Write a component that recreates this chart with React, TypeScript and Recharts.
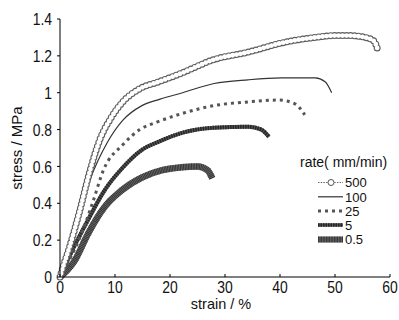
import React from 'react';
import { LineChart, Line, XAxis, YAxis } from 'recharts';

const strainTicks = [0, 10, 20, 30, 40, 50, 60];
const stressTicks = [0, 0.2, 0.4, 0.6, 0.8, 1, 1.2, 1.4];
const legendTitle = 'rate( mm/min)';
const rates = ['500', '100', '25', '5', '0.5'];

const strain500 = [0, 0.5, 1.7, 3.5, 5.3, 7.3, 9.2, 11.4, 14.4, 18, 22, 28, 34.2, 40.3, 46.4, 50, 52.5, 55.5, 57.1, 57.7];
const stress500 = [0, 0.05, 0.16, 0.35, 0.56, 0.75, 0.86, 0.95, 1.02, 1.06, 1.105, 1.18, 1.22, 1.27, 1.3, 1.31, 1.31, 1.3, 1.28, 1.24];

const strain100 = [0, 1.5, 3.9, 5.5, 8.6, 11.4, 14.9, 18.2, 22.3, 28, 34.2, 40.3, 46.4, 48.2, 49.4];
const stress100 = [0, 0.15, 0.38, 0.53, 0.73, 0.85, 0.93, 0.965, 1.0, 1.05, 1.07, 1.08, 1.08, 1.06, 1.0];

const strain25 = [0, 4.1, 5.9, 7.9, 11.5, 14.5, 17.6, 22.5, 28, 34.2, 39.7, 42.7, 44.5];
const stress25 = [0, 0.25, 0.4, 0.58, 0.72, 0.8, 0.84, 0.89, 0.93, 0.95, 0.96, 0.94, 0.88];

const strain5 = [0, 2, 5.1, 8.1, 11.3, 14.9, 18, 22.5, 28, 34.2, 36.6, 38];
const stress5 = [0, 0.13, 0.31, 0.47, 0.59, 0.69, 0.735, 0.785, 0.81, 0.815, 0.8, 0.76];

const strain05 = [0, 2.7, 5.1, 8.1, 11.2, 14.9, 18.6, 22, 25, 26.8, 27.7];
const stress05 = [0, 0.09, 0.235, 0.38, 0.47, 0.54, 0.58, 0.595, 0.6, 0.58, 0.535];

const zip = (xs: number[], ys: number[]) => xs.map((x, i) => ({ x, y: ys[i] }));

const d500 = zip(strain500, stress500);
const d100 = zip(strain100, stress100);
const d25 = zip(strain25, stress25);
const d5 = zip(strain5, stress5);
const d05 = zip(strain05, stress05);

const FONT = '"Liberation Sans", Arial, sans-serif';

const YTick = (props: any) => {
  const { x, y, payload } = props;
  return (
    <g transform={`translate(${x},${y})`}>
      <text transform="scale(0.82,1)" textAnchor="end" dy="0.36em" fontSize={17} fontFamily={FONT} fill="#111">
        {String(payload.value)}
      </text>
    </g>
  );
};

const XTick = (props: any) => {
  const { x, y, payload } = props;
  return (
    <g transform={`translate(${x},${y})`}>
      <text transform="scale(0.82,1)" textAnchor="middle" dy="0.72em" fontSize={17} fontFamily={FONT} fill="#111">
        {String(payload.value)}
      </text>
    </g>
  );
};

export default function App() {
  const rowY = [182.5, 196.8, 211, 225, 239.5];
  const sx1 = 318;
  const sx2 = 343;
  return (
    <div style={{ position: 'absolute', left: 0, top: 0, width: 399, height: 320, background: '#fff' }}>
      <LineChart width={399} height={320} margin={{ top: 19, right: 9, left: 0, bottom: 0 }}>
        <XAxis
          dataKey="x"
          type="number"
          domain={[0, 60]}
          ticks={strainTicks}
          height={43}
          tickSize={-3}
          tickMargin={7}
          axisLine={{ stroke: '#000', strokeWidth: 1 }}
          tickLine={{ stroke: '#000' }}
          tick={<XTick />}
        />
        <YAxis
          dataKey="y"
          type="number"
          domain={[0, 1.4]}
          ticks={stressTicks}
          width={60}
          tickSize={3}
          tickMargin={5}
          axisLine={{ stroke: '#000', strokeWidth: 1 }}
          tickLine={{ stroke: '#000' }}
          tick={<YTick />}
        />
        <Line data={d05} dataKey="y" type="monotone" stroke="#6a6a6a" strokeWidth={6.5} dot={false} isAnimationActive={false} />
        <Line data={d05} dataKey="y" type="monotone" stroke="#2e2e2e" strokeWidth={6.5} strokeDasharray="0.8 0.8" dot={false} isAnimationActive={false} />
        <Line data={d5} dataKey="y" type="monotone" stroke="#5a5a5a" strokeWidth={4} dot={false} isAnimationActive={false} />
        <Line data={d5} dataKey="y" type="monotone" stroke="#262626" strokeWidth={4} strokeDasharray="1.5 1" dot={false} isAnimationActive={false} />
        <Line data={d25} dataKey="y" type="monotone" stroke="#555" strokeWidth={3} strokeDasharray="3 4" dot={false} isAnimationActive={false} />
        <Line data={d100} dataKey="y" type="monotone" stroke="#333" strokeWidth={1.2} dot={false} isAnimationActive={false} />
        <Line data={d500} dataKey="y" type="monotone" stroke="#5e5e5e" strokeWidth={7} strokeDasharray="0 4" strokeLinecap="round" dot={false} isAnimationActive={false} />
        <Line data={d500} dataKey="y" type="monotone" stroke="#fff" strokeWidth={4.8} strokeDasharray="0 4" strokeLinecap="round" dot={false} isAnimationActive={false} />
        <text x={16} y={148} transform="rotate(-90 16 148)" textAnchor="middle" dominantBaseline="central" fontSize={15} fontFamily={FONT} fill="#111">stress / MPa</text>
        <text x={221} y={309} textAnchor="middle" fontSize={14.5} fontFamily={FONT} fill="#111">strain / %</text>
        <g fontFamily={FONT} fill="#111">
          <text x={300} y={167} fontSize={14}>{legendTitle}</text>
          <line x1={sx1} x2={sx2} y1={rowY[0]} y2={rowY[0]} stroke="#666" strokeWidth={1} strokeDasharray="1.5 1.2" />
          <circle cx={331} cy={rowY[0]} r={3} fill="#fff" stroke="#555" strokeWidth={1} />
          <line x1={sx1} x2={sx2} y1={rowY[1]} y2={rowY[1]} stroke="#333" strokeWidth={1.2} />
          <line x1={sx1} x2={sx2} y1={rowY[2]} y2={rowY[2]} stroke="#555" strokeWidth={3} strokeDasharray="3 4" />
          <line x1={sx1} x2={sx2} y1={rowY[3]} y2={rowY[3]} stroke="#5a5a5a" strokeWidth={3.5} />
          <line x1={sx1} x2={sx2} y1={rowY[3]} y2={rowY[3]} stroke="#262626" strokeWidth={3.5} strokeDasharray="1.5 1" />
          <line x1={sx1} x2={sx2} y1={rowY[4]} y2={rowY[4]} stroke="#6a6a6a" strokeWidth={6} />
          <line x1={sx1} x2={sx2} y1={rowY[4]} y2={rowY[4]} stroke="#2e2e2e" strokeWidth={6} strokeDasharray="0.8 0.8" />
          {rates.map((r, i) => (
            <text key={r} x={345} y={rowY[i] + 4.8} fontSize={13}>{r}</text>
          ))}
        </g>
      </LineChart>
    </div>
  );
}
